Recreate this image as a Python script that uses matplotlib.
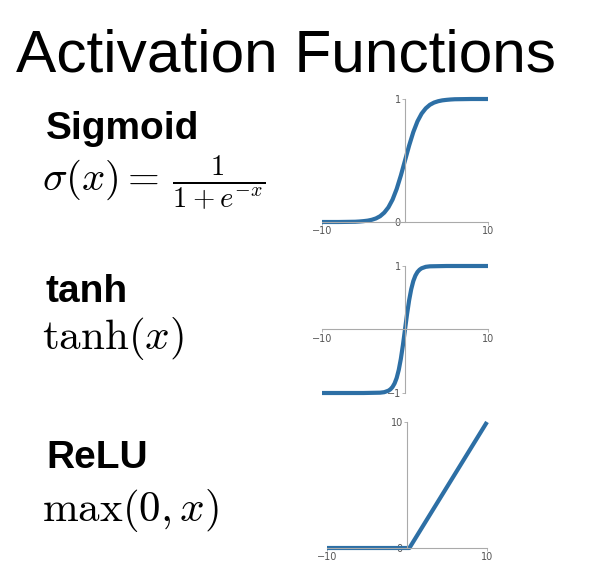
import matplotlib
matplotlib.use("Agg")
import matplotlib.pyplot as plt

plt.rcParams['mathtext.fontset'] = 'cm'

# --- data ---
sig_x = [-10, -8, -7, -6, -5.5, -5, -4.5, -4, -3.5, -3, -2.5, -2, -1.5, -1, -0.5, 0,
         0.5, 1, 1.5, 2, 2.5, 3, 3.5, 4, 4.5, 5, 5.5, 6, 7, 8, 10]
sig_y = [0.000, 0.000, 0.001, 0.002, 0.004, 0.007, 0.011, 0.018, 0.029, 0.047, 0.076, 0.119, 0.182, 0.269, 0.378, 0.500,
         0.622, 0.731, 0.818, 0.881, 0.924, 0.953, 0.971, 0.982, 0.989, 0.993, 0.996, 0.998, 0.999, 1.000, 1.000]

tanh_x = [-10, -5, -3, -2.5, -2, -1.75, -1.5, -1.25, -1, -0.75, -0.5, -0.25, 0,
          0.25, 0.5, 0.75, 1, 1.25, 1.5, 1.75, 2, 2.5, 3, 5, 10]
tanh_y = [-1.000, -1.000, -0.995, -0.987, -0.964, -0.941, -0.905, -0.848, -0.762, -0.635, -0.462, -0.245, 0.000,
          0.245, 0.462, 0.635, 0.762, 0.848, 0.905, 0.941, 0.964, 0.987, 0.995, 1.000, 1.000]

relu_x = [-10, 0.3, 10]
relu_y = [0, 0, 10]

names = ["Sigmoid", "tanh", "ReLU"]
formulas = [r"$\sigma(x) =\, \frac{1}{1+e^{-x}}$", r"$\tanh(x)$", r"$\max(0, x)$"]
x_ticks = [-10, 10]
y_ticks = [[0, 1], [-1, 1], [0, 10]]
y_lims = [(0, 1), (-1, 1), (0, 10)]
series = [(sig_x, sig_y), (tanh_x, tanh_y), (relu_x, relu_y)]

W, H = 594, 585
fig = plt.figure(figsize=(W / 100, H / 100), dpi=100)
fig.patch.set_facecolor("white")

fig.text(16 / W, 1 - 71 / H, "Activation Functions", fontsize=43.5,
         family="Liberation Sans", va="baseline", ha="left")

# axes boxes in pixels: left, top, right, bottom
boxes = [(322, 99, 488, 222), (322, 266, 488, 393), (327, 422, 487, 548)]
name_base = [139, 302, 468]
form_base = [191, 349, 521]
form_size = [29.5, 31, 31]

line_col = "#2d6fa5"
grey = "#aaaaaa"

for i in range(3):
    l, t, r, b = boxes[i]
    ax = fig.add_axes([l / W, 1 - b / H, (r - l) / W, (b - t) / H])
    xs, ys = series[i]
    ax.plot(xs, ys, color=line_col, lw=3, clip_on=False, solid_capstyle="butt")
    ax.set_xlim(-10, 10)
    ax.set_ylim(*y_lims[i])
    for s in ["top", "right"]:
        ax.spines[s].set_visible(False)
    ax.spines["left"].set_position(("data", 0))
    ax.spines["bottom"].set_position(("data", 0))
    for s in ["left", "bottom"]:
        ax.spines[s].set_color(grey)
        ax.spines[s].set_linewidth(0.8)
    ax.set_xticks(x_ticks)
    ax.set_yticks(y_ticks[i])
    ax.tick_params(length=2, width=0.6, color=grey, labelsize=7,
                   labelcolor="#555555", pad=1)

    fig.text(46 / W, 1 - name_base[i] / H, names[i], fontsize=28, weight="bold",
             family="Liberation Sans", va="baseline", ha="left")
    fig.text(42 / W, 1 - form_base[i] / H, formulas[i], fontsize=form_size[i],
             va="baseline", ha="left")

fig.savefig("out.png", dpi=100)
